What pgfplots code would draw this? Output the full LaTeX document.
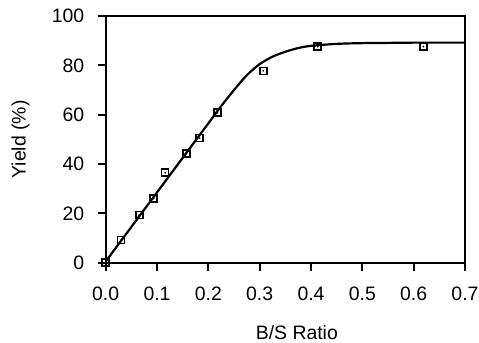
\documentclass[border=0pt]{standalone}
\usepackage{fontspec}
\setmainfont{Liberation Sans}
\usepackage{pgfplots}
\pgfplotsset{compat=1.18}
\begin{document}
\begin{tikzpicture}
\useasboundingbox (-105.7bp,-80.3bp) rectangle (373.3bp,262.7bp);
\begin{axis}[
  at={(0,0)}, anchor=south west,
  scale only axis, width=359.3bp, height=246.7bp,
  xmin=0, xmax=0.7, ymin=0, ymax=100,
  xtick={0,0.1,...,0.7}, ytick={0,20,...,100},
  tick pos=left, tick align=outside,
  major tick length=8bp,
  axis line style={line width=2bp},
  tick style={line width=2bp, black},
  /pgf/number format/assume math mode=true,
  font=\fontsize{19.5}{23}\selectfont,
  xticklabel style={yshift=-13bp, /pgf/number format/.cd, fixed, fixed zerofill, precision=1},
  yticklabel style={xshift=-10bp},
  ylabel={Yield (\%)},
  xlabel={B/S Ratio},
  ylabel style={at={(axis description cs:-0.2371,0.5)}, anchor=center},
  xlabel style={at={(axis description cs:0.532,-0.313)}, anchor=base},
]
\addplot[black, line width=2.2bp, smooth, no marks] coordinates {
(0,0.5) (0.05,14.5) (0.1,28.5) (0.15,42.5) (0.2,56.5) (0.225,63.5) (0.25,70)
(0.275,76) (0.3,80.5) (0.325,83.5) (0.35,85.5) (0.375,87) (0.4,87.9)
(0.45,88.7) (0.5,89) (0.55,89.1) (0.6,89.2) (0.7,89.2)};
\addplot[black, only marks, mark=square, mark size=3.5bp, mark options={line width=1.5bp}] coordinates {
(0,0) (0.030,9.2) (0.0655,19.3) (0.0935,26) (0.116,36.5) (0.157,44.3)
(0.183,50.5) (0.2175,60.8) (0.307,77.8) (0.413,87.6) (0.619,87.6)};
\addplot[black, only marks, mark=*, mark size=0.7bp] coordinates {
(0,0) (0.030,9.2) (0.0655,19.3) (0.0935,26) (0.116,36.5) (0.157,44.3)
(0.183,50.5) (0.2175,60.8) (0.307,77.8) (0.413,87.6) (0.619,87.6)};
\end{axis}
\end{tikzpicture}
\end{document}
